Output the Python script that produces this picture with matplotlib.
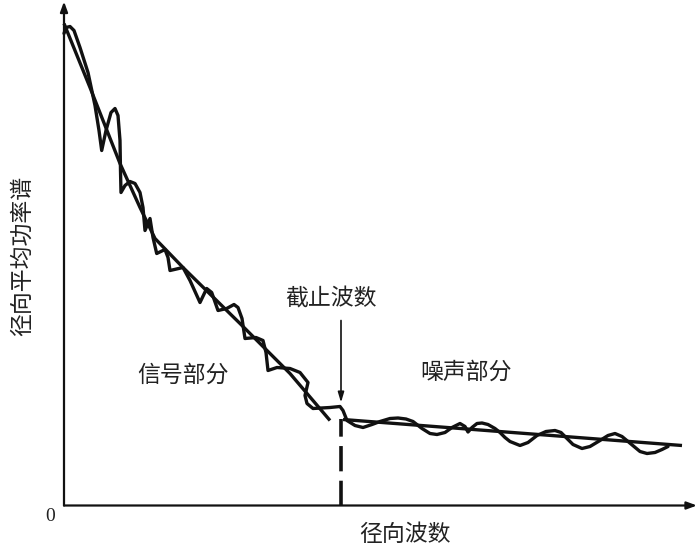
import matplotlib
matplotlib.use("Agg")
import matplotlib.pyplot as plt

plt.rcParams["font.family"] = ["Noto Sans CJK SC", "DejaVu Sans"]

# radial wavenumber / power, arbitrary units
# fitted straight line, signal part
sig_k = [0, 2.6, 5.6, 7.6, 9.1, 11.9, 17.6, 22.6, 26.6]
sig_p = [48.2, 41.8, 34.2, 29.8, 26.7, 23.8, 18.2, 13.2, 8.5]

# fitted straight line, noise part
noise_k = [27.9, 61.8]
noise_p = [8.6, 6.0]

# measured spectrum (wiggly curve)
spec_k = [0, 0.2, 0.6, 1.0, 1.6, 2.4, 3.1, 3.5, 3.77, 4.2, 4.7, 5.1, 5.4, 5.6,
          5.65, 5.7, 6.1, 6.6, 7.1, 7.6, 7.9, 8.1, 8.6, 8.9, 9.27, 10.1, 10.4,
          10.6, 11.9, 12.6, 13.6, 14.27, 14.77, 15.4, 16.27, 17.0, 17.4, 17.8,
          18.1, 19.2, 19.9, 20.2, 20.4, 21.3, 22.6, 23.6, 24.4, 24.1, 24.3,
          24.9, 26.6, 27.6, 27.9, 28.3, 29.1, 29.9, 30.8, 31.6, 32.6, 33.4,
          34.2, 34.9, 35.8, 36.6, 37.3, 38.1, 38.8, 39.6, 40.1, 40.4, 40.8,
          41.3, 41.8, 42.4, 43.1, 43.6, 44.1, 44.6, 45.6, 46.4, 47.3, 48.2,
          49.1, 49.7, 50.2, 50.9, 51.8, 52.6, 53.6, 54.4, 55.1, 55.8, 56.4,
          57.0, 57.6, 58.3, 59.1, 59.8, 60.4]
spec_p = [47.2, 47.8, 47.9, 47.5, 45.8, 43.3, 40.0, 37.5, 35.5, 37.5, 39.3,
          39.7, 39.0, 36.5, 33.5, 31.3, 32.0, 32.4, 32.2, 31.3, 29.8, 27.5,
          28.7, 26.8, 25.2, 25.6, 24.8, 23.5, 23.8, 22.5, 20.3, 21.7, 21.3,
          19.5, 19.7, 20.1, 19.8, 18.7, 16.7, 16.8, 16.5, 15.3, 13.5, 13.8,
          13.7, 13.3, 12.3, 11.0, 10.2, 9.7, 9.8, 9.9, 9.5, 8.5, 8.0, 7.8, 8.1,
          8.4, 8.7, 8.75, 8.65, 8.4, 7.7, 7.2, 7.1, 7.3, 7.8, 8.2, 7.9, 7.35,
          7.8, 8.2, 8.25, 8.1, 7.7, 7.3, 6.8, 6.4, 6.0, 6.3, 7.0, 7.4, 7.5,
          7.3, 6.8, 6.1, 5.7, 5.9, 6.5, 7.0, 7.2, 6.9, 6.4, 5.9, 5.4, 5.2, 5.3,
          5.6, 5.9]

cutoff_k = 27.7
cutoff_p = 8.7

fig = plt.figure(figsize=(7, 5.54), dpi=100)
ax = fig.add_axes([64 / 700, 48.5 / 554, 630 / 700, 500 / 554])
ax.set_xlim(0, 63)
ax.set_ylim(0, 50)
ax.axis("off")

ink = "#111111"

# axes with arrow heads
ax.annotate("", xy=(63.3, 0), xytext=(0, 0), annotation_clip=False,
            arrowprops=dict(arrowstyle="-|>,head_length=0.6,head_width=0.22",
                            lw=1.6, color=ink, shrinkA=0, shrinkB=0))
ax.annotate("", xy=(0, 50.4), xytext=(0, 0), annotation_clip=False,
            arrowprops=dict(arrowstyle="-|>,head_length=0.6,head_width=0.22",
                            lw=1.6, color=ink, shrinkA=0, shrinkB=0))

ax.plot(spec_k, spec_p, color=ink, lw=2.4, solid_joinstyle="round",
        solid_capstyle="round", clip_on=False)
ax.plot(sig_k, sig_p, color=ink, lw=2.4, solid_capstyle="butt", clip_on=False)
ax.plot(noise_k, noise_p, color=ink, lw=2.4, solid_capstyle="butt")

# cutoff marker
ax.plot([cutoff_k, cutoff_k], [0, cutoff_p], color=ink, lw=2.6,
        linestyle=(0, (7, 2.6)), dash_capstyle="butt")
ax.annotate("", xy=(cutoff_k, 10.3), xytext=(cutoff_k, 18.5),
            arrowprops=dict(arrowstyle="-|>,head_length=0.6,head_width=0.18",
                            lw=1.2, color=ink, shrinkA=0, shrinkB=0))

fs = 16.5
tc = "#222222"
ax.text(26.7, 20.6, "截止波数", ha="center", va="center", fontsize=fs, color=tc)
ax.text(11.9, 13.0, "信号部分", ha="center", va="center", fontsize=fs, color=tc)
ax.text(40.2, 13.3, "噪声部分", ha="center", va="center", fontsize=fs, color=tc)
ax.text(34.1, -2.9, "径向波数", ha="center", va="center", fontsize=fs,
        color=tc, clip_on=False)
ax.text(-4.2, 25.0, "径向平均功率谱", ha="center", va="center", fontsize=fs,
        rotation=90, color=tc, clip_on=False)
ax.text(-1.4, -1.1, "0", ha="center", va="center", fontsize=14, color=tc,
        family="Liberation Serif", clip_on=False)

fig.savefig("out.png", dpi=100)
